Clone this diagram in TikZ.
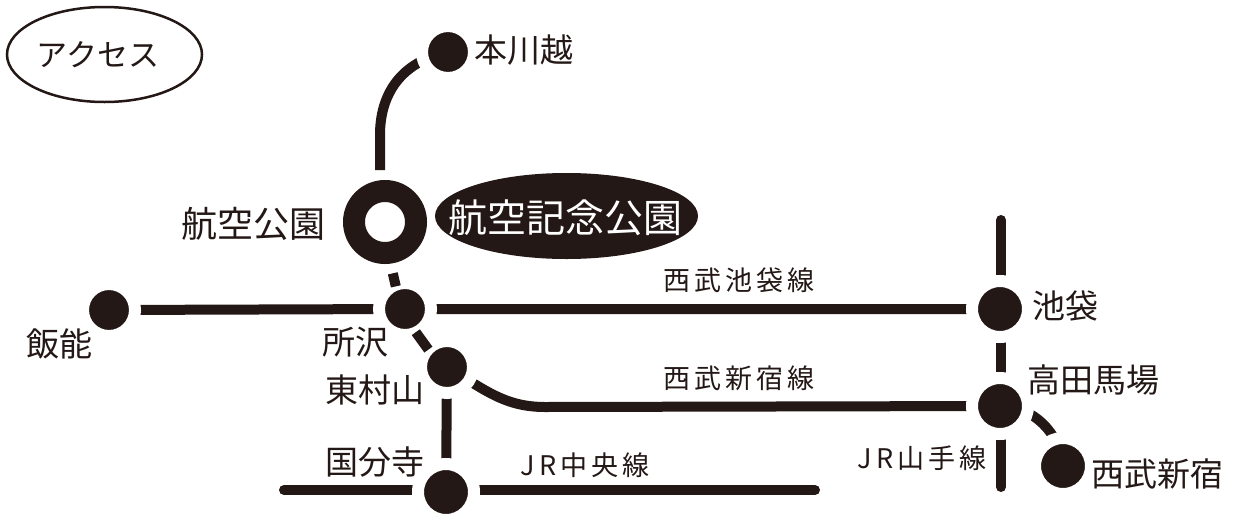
\documentclass[tikz,border=0pt]{standalone}
\usepackage{fontspec}
\setmainfont{Noto Sans CJK JP}
\usetikzlibrary{shapes.geometric,calc}
\pgfdeclarelayer{bg}
\pgfsetlayers{bg,main}
\definecolor{ink}{RGB}{35,24,21}
\newcommand\tkn{\kern4pt}
\begin{document}
\begin{tikzpicture}[x=1pt,y=-1pt,
  rail/.style={draw=ink,line width=10pt},
  stn/.style={circle,fill=ink,draw=white,line width=12pt,inner sep=0pt,minimum size=#1},
  stn/.default=52pt,
  lab/.style={inner sep=0pt,text=ink,font=\fontsize{33}{33}\selectfont},
  llab/.style={inner sep=0pt,text=ink,font=\fontsize{27}{27}\selectfont},
]
\useasboundingbox (0,0) rectangle (1236,517);

% title ellipse
\node[ellipse,draw=ink,line width=2.5pt,minimum width=195pt,minimum height=95pt,inner sep=0pt] (acc) at (104.5,54.5) {};
\node[inner sep=0pt,text=ink,font=\fontsize{31}{31}\selectfont] (acct) at (98,55) {アクセス};

% stations
\node[stn] (hk) at (448,52) {};
\node[circle,draw=ink,line width=22pt,fill=white,minimum size=62pt,inner sep=0pt] (ring) at (385,222) {};
\node[stn] (hn) at (109,310) {};
\node[stn] (tok) at (405,309) {};
\node[stn=56pt] (ike) at (1000,309) {};
\node[stn] (hm) at (447,367) {};
\node[stn=56pt] (tb) at (1000,406) {};
\node[stn=56pt] (sn) at (1063,466) {};
\node[stn=56pt] (kb) at (446,492) {};

% free ends
\coordinate (hkend) at (380,170);
\coordinate (ytop) at (1001,220);
\coordinate (ybot) at (1001,487);
\coordinate (cl) at (284,490);
\coordinate (cr) at (815,490);

% park ellipse
\node[ellipse,fill=ink,minimum width=263pt,minimum height=86pt,inner sep=0pt] (park) at (566.5,216) {};
\node[inner sep=0pt,text=white,font=\fontsize{39}{39}\selectfont] (parkt) at (565,218) {航空記念公園};

\begin{pgfonlayer}{bg}
  \fill[white] (0,0) rectangle (1236,517);
  \draw[rail] (hk.center) .. controls (400,62) and (380,95) .. (380,135) -- (hkend);
  \draw[rail] (hn.center) -- (tok.center) -- (ike.center);
  \draw[rail] (hm.center) .. controls (485,390) and (505,407) .. (545,407) -- (tb.center);
  \draw[rail,line cap=round] (ytop) -- (ybot);
  \draw[rail,line cap=round] (cl) -- (cr);
  \draw[rail] (hm.center) -- (kb.center);
  \draw[rail] (tb.center) .. controls (1033,406) and (1060,433) .. (sn.center);
\end{pgfonlayer}

% dashes
\draw[rail] ($(ring.center)!0.59!(tok.center)+(-4,0)$) -- ($(ring.center)!0.74!(tok.center)+(-4,0)$);
\draw[rail] ($(tok.center)!0.40!(hm.center)+(-6,0)$) -- ($(tok.center)!0.70!(hm.center)+(-6,0)$);

% labels
\node[lab,anchor=west] (lhk) at (474,50) {本川越};
\node[lab,font=\fontsize{36}{36}\selectfont] (lkk) at (253,224) {航空公園};
\node[lab] (lhn) at (60,344) {飯能};
\node[lab] (ltok) at (355,342) {所沢};
\node[lab] (lhm) at (375,390) {東村山};
\node[lab] (lkb) at (375,462) {国分寺};
\node[lab] (like) at (1065,306) {池袋};
\node[lab] (ltb) at (1093,380) {高田馬場};
\node[lab] (lsn) at (1157,474) {西武新宿};
\node[llab] (lik) at (739,280) {西\tkn 武\tkn 池\tkn 袋\tkn 線};
\node[llab] (lsj) at (739,378) {西\tkn 武\tkn 新\tkn 宿\tkn 線};
\node[llab] (ljc) at (585,465) {J\tkn R\tkn 中\tkn 央\tkn 線};
\node[llab] (ljy) at (922,458) {J\tkn R\tkn 山\tkn 手\tkn 線};
\end{tikzpicture}
\end{document}
